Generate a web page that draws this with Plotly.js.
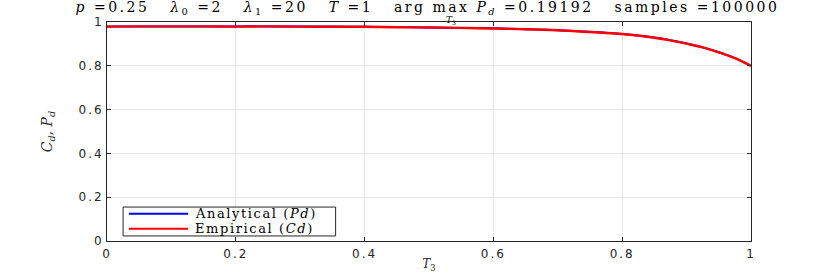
<!DOCTYPE html>
<html>
<head>
<meta charset="utf-8">
<script src="https://cdn.plot.ly/plotly-3.0.1.min.js"></script>
<style>
html,body{margin:0;padding:0;background:#fff;}
#chart{width:830px;height:273px;}
#chart .gtitle{letter-spacing:2.5px;}
#chart .xtick text, #chart .ytick text{letter-spacing:2px;}
#chart .annotation.leg text{letter-spacing:1.6px;}
</style>
</head>
<body>
<div id="chart"></div>
<script>
const T3 = [0, 0.05, 0.1, 0.15, 0.2, 0.25, 0.3, 0.35, 0.4, 0.45, 0.5, 0.55, 0.6, 0.65, 0.7, 0.75, 0.8, 0.85, 0.875, 0.9, 0.925, 0.95, 0.975, 1.0];
const analyticalPd = [0.980, 0.980, 0.980, 0.980, 0.980, 0.980, 0.979, 0.979, 0.978, 0.977, 0.975, 0.973, 0.971, 0.967, 0.962, 0.955, 0.945, 0.929, 0.917, 0.902, 0.884, 0.862, 0.835, 0.800];
const empiricalCd = [0.979, 0.980, 0.980, 0.980, 0.979, 0.980, 0.979, 0.978, 0.978, 0.976, 0.975, 0.973, 0.970, 0.967, 0.962, 0.954, 0.945, 0.928, 0.916, 0.901, 0.884, 0.861, 0.835, 0.800];
const seriesNames = ['Analytical (<i>Pd</i>)', 'Empirical (<i>Cd</i>)'];
const seriesColors = ['#0000ff', '#ff0000'];
const xTicks = [0, 0.2, 0.4, 0.6, 0.8, 1];
const yTicks = [0, 0.2, 0.4, 0.6, 0.8, 1];

const S = '\u00A0\u00A0\u00A0';
const titleText = '<i>p</i> =0.25' + S + '<i>λ</i><sub>0</sub> =2' + S + '<i>λ</i><sub>1</sub> =20' + S +
  '<i>T</i> =1' + S + 'arg max <i>P<sub>d</sub></i> =0.19192' + S + 'samples =100000';

const serif = '"DejaVu Serif", serif';
const sans = '"DejaVu Sans", sans-serif';

const traces = [
  {x: T3, y: analyticalPd, name: seriesNames[0], mode: 'lines', line: {color: seriesColors[0], width: 2, shape: 'spline'}, showlegend: false},
  {x: T3, y: empiricalCd, name: seriesNames[1], mode: 'lines', line: {color: seriesColors[1], width: 2.4, shape: 'spline'}, showlegend: false}
];

const axisCommon = {
  showline: true, mirror: 'ticks', linecolor: '#262626', linewidth: 1,
  ticks: 'inside', ticklen: 4, tickcolor: '#262626',
  showgrid: true, gridcolor: '#e6e6e6', gridwidth: 1, zeroline: false,
  tickfont: {family: sans, size: 12, color: '#262626'}
};

// legend box geometry (paper fractions of the plot area)
const legBox = {x0: 0.025, x1: 0.355, y0: 0.023, y1: 0.155};
const legRows = [0.124, 0.056];
const legLine = {x0: 0.034, x1: 0.126};
const legText = 0.135;

const shapes = [
  {type: 'rect', xref: 'paper', yref: 'paper', x0: legBox.x0, x1: legBox.x1, y0: legBox.y0, y1: legBox.y1,
   line: {color: '#262626', width: 1}, fillcolor: '#ffffff', layer: 'above'}
].concat(seriesNames.map((n, i) => ({
  type: 'line', xref: 'paper', yref: 'paper', x0: legLine.x0, x1: legLine.x1, y0: legRows[i], y1: legRows[i],
  line: {color: seriesColors[i], width: 2}, layer: 'above'
})));

const annotations = [
  {text: '<i>T</i><sub>3</sub>', xref: 'paper', yref: 'paper', x: 0.534, y: 1.0, xanchor: 'center', yanchor: 'bottom',
   showarrow: false, font: {family: serif, size: 9, color: '#000'}, yshift: -6}
].concat(seriesNames.map((n, i) => ({
  text: n, xref: 'paper', yref: 'paper', x: legText, y: legRows[i], xanchor: 'left', yanchor: 'middle', align: 'left',
  showarrow: false, font: {family: serif, size: 13, color: '#000'}, borderpad: 0
})));

const layout = {
  width: 830, height: 273,
  margin: {l: 107, r: 79, t: 22, b: 32},
  paper_bgcolor: '#fff', plot_bgcolor: '#fff',
  showlegend: false,
  title: {text: titleText, font: {family: serif, size: 14, color: '#000'}, x: 0.515, xanchor: 'center', y: 0.992, yanchor: 'top'},
  xaxis: Object.assign({}, axisCommon, {
    range: [0, 1], tickvals: xTicks, ticktext: xTicks.map(String), ticklabelstandoff: 2,
    title: {text: '<i>T</i><sub>3</sub>', font: {family: serif, size: 12, color: '#262626'}, standoff: 0}
  }),
  yaxis: Object.assign({}, axisCommon, {
    range: [0, 1], tickvals: yTicks, ticktext: yTicks.map(String),
    title: {text: '<i>C<sub>d</sub></i>, <i>P<sub>d</sub></i>', font: {family: serif, size: 14, color: '#262626'}, standoff: 28}
  }),
  shapes: shapes,
  annotations: annotations
};

Plotly.newPlot('chart', traces, layout, {displayModeBar: false, staticPlot: true}).then(() => {
  document.querySelectorAll('#chart .annotation').forEach((g, i) => { if (i > 0) g.classList.add('leg'); });
});
</script>
</body>
</html>
